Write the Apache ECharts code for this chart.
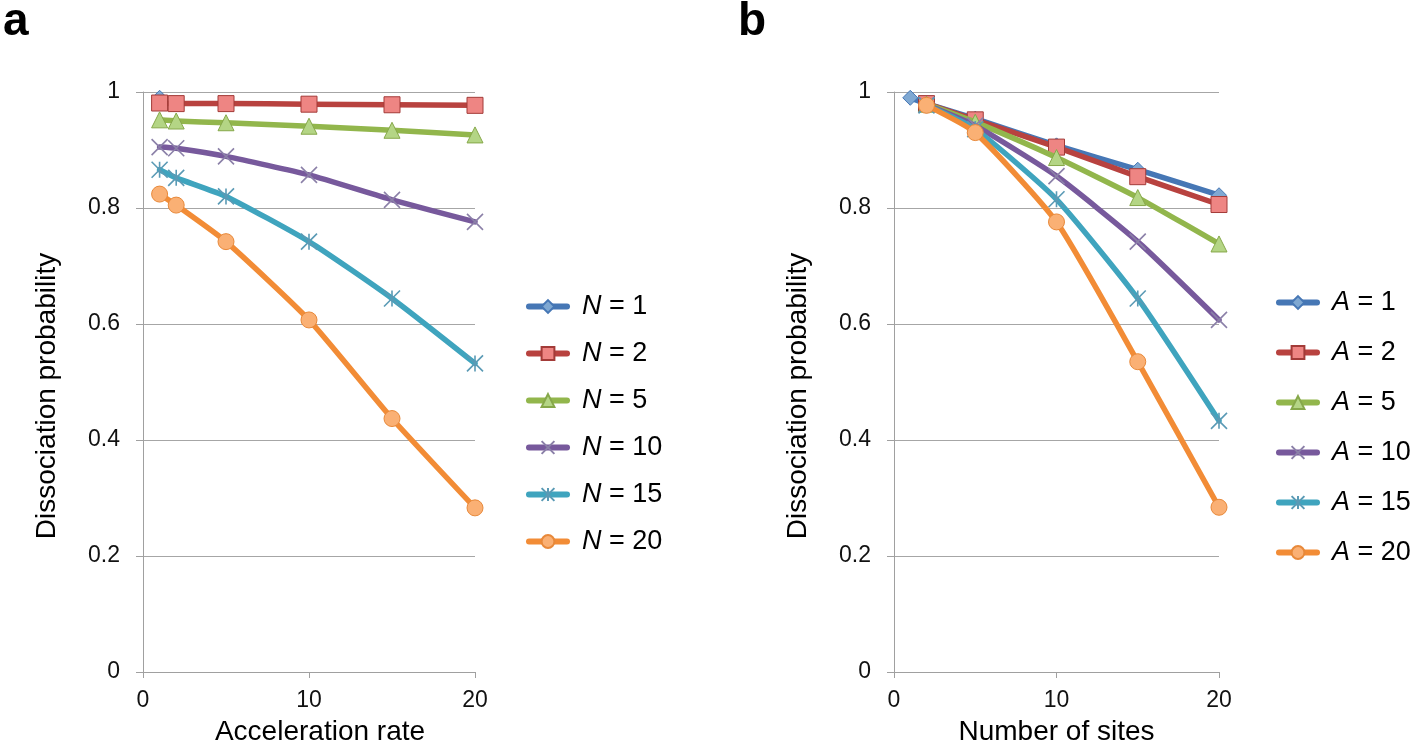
<!DOCTYPE html>
<html>
<head>
<meta charset="utf-8">
<script src="https://cdn.jsdelivr.net/npm/echarts@6/dist/echarts.min.js"></script>
<style>
  html, body { margin: 0; padding: 0; background: #fff; }
  #chart { width: 1416px; height: 746px; }
</style>
</head>
<body>
<div id="chart"></div>
<script>
// ---- Data ----
const xA = [1, 2, 5, 10, 15, 20];          // Acceleration rate
const namesA = ['N = 1', 'N = 2', 'N = 5', 'N = 10', 'N = 15', 'N = 20'];
const aN1  = [0.99, null, null, null, null, null];
const aN2  = [0.981, 0.980, 0.980, 0.979, 0.978, 0.977];
const aN5  = [0.952, 0.950, 0.947, 0.941, 0.934, 0.926];
const aN10 = [0.905, 0.903, 0.889, 0.857, 0.814, 0.776];
const aN15 = [0.866, 0.852, 0.820, 0.742, 0.644, 0.532];
const aN20 = [0.824, 0.805, 0.742, 0.607, 0.437, 0.283];

const xB = [1, 2, 5, 10, 15, 20];          // Number of sites
const namesB = ['A = 1', 'A = 2', 'A = 5', 'A = 10', 'A = 15', 'A = 20'];
const bA1  = [0.99, 0.980, 0.954, 0.908, 0.866, 0.822];
const bA2  = [null, 0.980, 0.952, 0.905, 0.854, 0.806];
const bA5  = [null, 0.979, 0.948, 0.887, 0.818, 0.738];
const bA10 = [null, 0.978, 0.942, 0.855, 0.742, 0.607];
const bA15 = [null, 0.977, 0.936, 0.815, 0.644, 0.433];
const bA20 = [null, 0.977, 0.930, 0.776, 0.535, 0.284];

const yTicks = [0, 0.2, 0.4, 0.6, 0.8, 1];
const xTicks = [0, 10, 20];

// ---- Styles ----
const FONT = 'Liberation Sans, Arial, sans-serif';
const styles = [
  { line: '#4677B5', symbol: 'diamond',  fill: '#7FA8D2', border: '#4677B5', size: 15 },
  { line: '#B8423F', symbol: 'rect',     fill: '#EE8583', border: '#A33B38', size: 16 },
  { line: '#92B64C', symbol: 'triangle', fill: '#B4D585', border: '#86A84A', size: 16 },
  { line: '#77599C', symbol: 'path://M0,0L10,10M10,0L0,10', fill: 'rgba(0,0,0,0)', border: '#8B80A8', size: 16, stroke: 1.6 },
  { line: '#3FA4BE', symbol: 'path://M0,0L10,10M10,0L0,10M5,0L5,10', fill: 'rgba(0,0,0,0)', border: '#5A9AB5', size: 16, stroke: 1.6 },
  { line: '#F28C36', symbol: 'circle',   fill: '#FAB074', border: '#E8893A', size: 16 }
];

function mkSeries(names, xs, arrays, gi) {
  return arrays.map((arr, i) => {
    const st = styles[i];
    return {
      name: names[i],
      type: 'line',
      xAxisIndex: gi, yAxisIndex: gi,
      data: xs.map((x, k) => arr[k] == null ? null : [x, arr[k]]).filter(d => d !== null),
      smooth: 0.18,
      symbol: st.symbol,
      symbolSize: st.size,
      showSymbol: true,
      lineStyle: { color: st.line, width: 5.5, cap: 'round', join: 'round' },
      itemStyle: { color: st.fill, borderColor: st.border, borderWidth: st.stroke || 1 },
      emphasis: { disabled: true },
      z: 2 + i
    };
  });
}

function xAxis(gi, name, padLeft) {
  return {
    gridIndex: gi, type: 'value', min: xTicks[0], max: xTicks[xTicks.length - 1], interval: 10,
    name: name, nameLocation: 'middle', nameGap: 46,
    nameTextStyle: { fontFamily: FONT, fontSize: 28, color: '#000', padding: [0, 0, 0, padLeft] },
    axisLine: { show: true, lineStyle: { color: '#A0A0A0', width: 1 } },
    axisTick: { show: true, length: 6, lineStyle: { color: '#A0A0A0' } },
    axisLabel: { fontFamily: FONT, fontSize: 23, color: '#111', margin: 17 },
    splitLine: { show: false }
  };
}
function yAxis(gi) {
  return {
    gridIndex: gi, type: 'value', min: yTicks[0], max: yTicks[yTicks.length - 1], interval: 0.2,
    name: 'Dissociation probability', nameLocation: 'middle', nameGap: 82, nameRotate: 90,
    nameTextStyle: { fontFamily: FONT, fontSize: 28, color: '#000', padding: [0, 28, 0, 0] },
    axisLine: { show: true, lineStyle: { color: '#A0A0A0', width: 1 } },
    axisTick: { show: true, length: 7, lineStyle: { color: '#A0A0A0' } },
    axisLabel: { fontFamily: FONT, fontSize: 23, color: '#111', margin: 23 },
    splitLine: { show: true, lineStyle: { color: '#A6A6A6', width: 1 } }
  };
}
function legend(names, left, top, gap) {
  return {
    data: names, orient: 'vertical', left: left, top: top,
    itemWidth: 38, itemHeight: 16, itemGap: gap,
    lineStyle: { width: 6, cap: 'round' },
    formatter: n => n.replace(/^([NA])/, '{i|$1}'),
    textStyle: {
      fontFamily: FONT, fontSize: 27, color: '#000', padding: [0, 0, 0, 10],
      rich: { i: { fontFamily: FONT, fontSize: 27, fontStyle: 'italic', color: '#000' } }
    },
    selectedMode: false
  };
}

const chart = echarts.init(document.getElementById('chart'), null, { renderer: 'canvas' });
chart.setOption({
  animation: false,
  backgroundColor: '#fff',
  title: [
    { text: 'a', left: -2, top: -6, textStyle: { fontFamily: FONT, fontSize: 46, fontWeight: 'bold', color: '#000' } },
    { text: 'b', left: 733, top: -6, textStyle: { fontFamily: FONT, fontSize: 46, fontWeight: 'bold', color: '#000' } }
  ],
  grid: [
    { left: 143, right: 941, top: 92, bottom: 74, outerBoundsMode: 'none', containLabel: false },
    { left: 894, right: 197, top: 92, bottom: 74, outerBoundsMode: 'none', containLabel: false }
  ],
  xAxis: [xAxis(0, 'Acceleration rate', 22), xAxis(1, 'Number of sites', 0)],
  yAxis: [yAxis(0), yAxis(1)],
  legend: [legend(namesA, 521, 288, 20), legend(namesB, 1271, 284, 23)],
  series: [].concat(
    mkSeries(namesA, xA, [aN1, aN2, aN5, aN10, aN15, aN20], 0),
    mkSeries(namesB, xB, [bA1, bA2, bA5, bA10, bA15, bA20], 1)
  )
});
</script>
</body>
</html>
